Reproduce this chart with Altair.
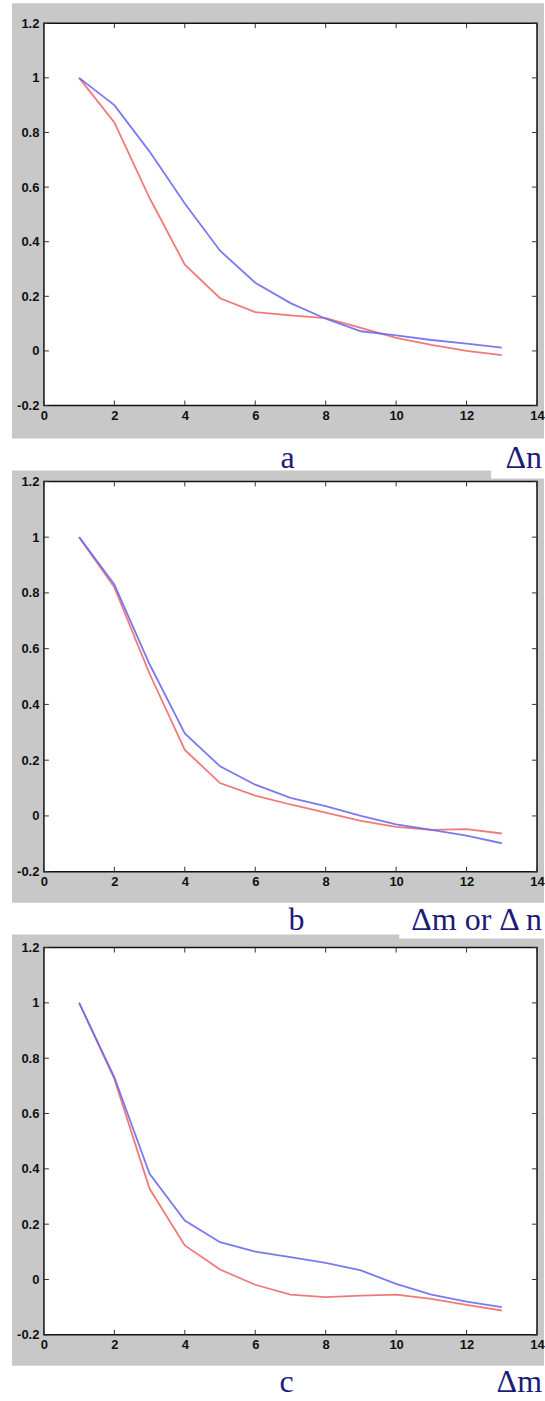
import altair as alt
import pandas as pd

# ---------------- data ----------------
x_vals = list(range(1, 14))

a_blue = [1.0, 0.90, 0.73, 0.54, 0.367, 0.25, 0.175, 0.118, 0.072, 0.057, 0.04, 0.027, 0.012]
a_red = [1.0, 0.837, 0.56, 0.316, 0.193, 0.142, 0.13, 0.12, 0.084, 0.048, 0.022, 0.0, -0.015]

b_blue = [1.0, 0.83, 0.544, 0.296, 0.178, 0.112, 0.065, 0.035, 0.0, -0.03, -0.05, -0.071, -0.098]
b_red = [1.0, 0.82, 0.51, 0.237, 0.118, 0.073, 0.041, 0.012, -0.018, -0.039, -0.05, -0.047, -0.063]

c_blue = [1.0, 0.731, 0.382, 0.213, 0.135, 0.101, 0.081, 0.06, 0.033, -0.016, -0.055, -0.08, -0.10]
c_red = [1.0, 0.725, 0.328, 0.123, 0.036, -0.019, -0.055, -0.064, -0.058, -0.055, -0.07, -0.092, -0.112]

x_ticks = [0, 2, 4, 6, 8, 10, 12, 14]
y_ticks = [-0.2, 0, 0.2, 0.4, 0.6, 0.8, 1.0, 1.2]

panel_letters = ["a", "b", "c"]
axis_notes = ["Δn", "Δm or Δ n", "Δm"]
series_names = ["red", "blue"]

# ---------------- style ----------------
W = 494
GREY = "#c8c8c8"
NAVY = "#1c1c78"
RED = "#f06a6a"
BLUE = "#6a6af0"
TXT = 32

xs = alt.Scale(domain=[0, 14], nice=False, zero=False)
ys = alt.Scale(domain=[-0.2, 1.2], nice=False, zero=False)
ax_common = dict(title=None, domain=False, ticks=False, grid=False, zindex=2,
                 labelFont="Liberation Sans", labelFontSize=13, labelFontWeight="bold",
                 labelColor="#111111", labelFlush=False, labelOverlap=False)
ax_x = alt.Axis(values=x_ticks, labelExpr="datum.value + ''", labelPadding=4, **ax_common)
ax_y = alt.Axis(values=y_ticks, labelExpr="datum.value + ''", labelPadding=5, **ax_common)
one = pd.DataFrame({"k": [0]})
xt_df = pd.DataFrame({"t": x_ticks})
yt_df = pd.DataFrame({"t": y_ticks})


def panel(blue, red, h, g_top, g_bot, letter, note, txt_dy, letter_x, notch):
    df = pd.DataFrame({
        "x": x_vals + x_vals,
        "y": red + blue,
        "s": [series_names[0]] * len(x_vals) + [series_names[1]] * len(x_vals),
    })
    grey = alt.Chart(one).mark_rect(color=GREY).encode(
        x=alt.value(-32), x2=alt.value(W + 7), y=alt.value(g_top), y2=alt.value(h + g_bot)
    )
    layers = [grey]
    if notch is not None:
        layers.append(
            alt.Chart(one).mark_rect(color="white").encode(
                x=alt.value(notch[0]), x2=alt.value(W + 7),
                y=alt.value(notch[1]), y2=alt.value(notch[2])
            )
        )
    box = alt.Chart(one).mark_rect(fill="white", stroke="#111111", strokeWidth=1.5).encode(
        x=alt.value(0), x2=alt.value(W), y=alt.value(0), y2=alt.value(h)
    )
    layers.append(box)
    lines = alt.Chart(df).mark_line(strokeWidth=1.8, opacity=0.9).encode(
        x=alt.X("x:Q", scale=xs, axis=ax_x),
        y=alt.Y("y:Q", scale=ys, axis=ax_y),
        color=alt.Color("s:N", scale=alt.Scale(domain=series_names, range=[RED, BLUE]), legend=None),
        detail="s:N",
    )
    layers.append(lines)
    tk = dict(color="#333333", strokeWidth=1)
    layers += [
        alt.Chart(xt_df).mark_rule(**tk).encode(
            x=alt.X("t:Q", scale=xs, axis=ax_x), y=alt.value(h), y2=alt.value(h - 5)),
        alt.Chart(xt_df).mark_rule(**tk).encode(
            x=alt.X("t:Q", scale=xs, axis=ax_x), y=alt.value(0), y2=alt.value(5)),
        alt.Chart(yt_df).mark_rule(**tk).encode(
            y=alt.Y("t:Q", scale=ys, axis=ax_y), x=alt.value(0), x2=alt.value(5)),
        alt.Chart(yt_df).mark_rule(**tk).encode(
            y=alt.Y("t:Q", scale=ys, axis=ax_y), x=alt.value(W), x2=alt.value(W - 5)),
    ]
    layers.append(
        alt.Chart(one).mark_text(text=letter, font="Liberation Serif", fontSize=TXT,
                                 color=NAVY, align="center", baseline="alphabetic").encode(
            x=alt.value(letter_x), y=alt.value(h + txt_dy))
    )
    layers.append(
        alt.Chart(one).mark_text(text=note, font="Liberation Serif", fontSize=TXT,
                                 color=NAVY, align="right", baseline="alphabetic").encode(
            x=alt.value(W + 5), y=alt.value(h + txt_dy))
    )
    return alt.layer(*layers).properties(width=W, height=h)


pa = panel(a_blue, a_red, 383, -20, 33, panel_letters[0], axis_notes[0], 63, 244, None)
pb = panel(b_blue, b_red, 391, -11, 31, panel_letters[1], axis_notes[1], 58, 253, (448, -12, -3))
pc = panel(c_blue, c_red, 388, -13, 31, panel_letters[2], axis_notes[2], 57, 243, (356, -14, -9))

chart = alt.vconcat(pa, pb, pc, spacing=76, bounds="flush").properties(
    padding={"left": 12, "top": 2, "right": 0, "bottom": 0},
    background="white",
).configure_view(strokeWidth=0)

chart.save("out.html", embed_options={"renderer": "svg", "actions": False})
